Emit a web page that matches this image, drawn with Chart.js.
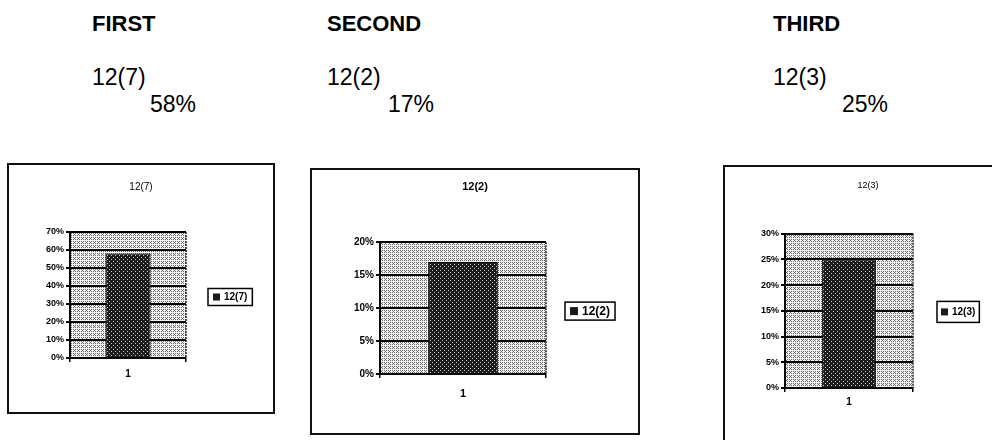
<!DOCTYPE html>
<html>
<head>
<meta charset="utf-8">
<script src="https://cdn.jsdelivr.net/npm/chart.js@4.4.1/dist/chart.umd.min.js"></script>
<style>
  body { margin: 0; width: 992px; height: 440px; overflow: hidden; background: #fff; position: relative; font-family: "Liberation Sans", Arial, sans-serif; color: #000; }
  .hd { position: absolute; font-size: 23px; line-height: 23px; white-space: nowrap; }
  .hd.b { font-weight: bold; font-size: 22px; }
  .box { position: absolute; border: 2px solid #111; background: #fff; }
  .box canvas { display: block; }
</style>
</head>
<body>
<div class="hd b" style="left:92px;top:12px" id="h1"></div>
<div class="hd" style="left:92px;top:66px" id="s1"></div>
<div class="hd" style="left:150px;top:93px" id="p1"></div>

<div class="hd b" style="left:327px;top:12px" id="h2"></div>
<div class="hd" style="left:327px;top:66px" id="s2"></div>
<div class="hd" style="left:388px;top:93px" id="p2"></div>

<div class="hd b" style="left:773px;top:12px" id="h3"></div>
<div class="hd" style="left:773px;top:66px" id="s3"></div>
<div class="hd" style="left:842px;top:93px" id="p3"></div>

<div class="box" style="left:7px;top:163px"><canvas id="c1" width="264" height="247"></canvas></div>
<div class="box" style="left:310px;top:168px"><canvas id="c2" width="326" height="263"></canvas></div>
<div class="box" style="left:723px;top:165px"><canvas id="c3" width="286" height="286"></canvas></div>

<script>
// data
const groupNames = ["FIRST", "SECOND", "THIRD"];
const categories = ["1"];
const seriesLabels = ["12(7)", "12(2)", "12(3)"];
const firstValues = [58];
const secondValues = [17];
const thirdValues = [25];
const firstTicks = [0, 10, 20, 30, 40, 50, 60, 70];
const secondTicks = [0, 5, 10, 15, 20];
const thirdTicks = [0, 5, 10, 15, 20, 25, 30];

// header text from the data
const allValues = [firstValues, secondValues, thirdValues];
groupNames.forEach((g, i) => {
  document.getElementById("h" + (i + 1)).textContent = g;
  document.getElementById("s" + (i + 1)).textContent = seriesLabels[i];
  document.getElementById("p" + (i + 1)).textContent = allValues[i][0] + "%";
});

// little pixel patterns, like the old excel fills
function makePattern(size, bg, fg, pts) {
  const c = document.createElement("canvas");
  c.width = size; c.height = size;
  const x = c.getContext("2d");
  x.fillStyle = bg; x.fillRect(0, 0, size, size);
  x.fillStyle = fg;
  pts.forEach(p => x.fillRect(p[0], p[1], 1, 1));
  return x.createPattern(c, "repeat");
}
const hatch = makePattern(4, "#f2f2f2", "#6a6a6a", [[0, 0], [2, 0], [1, 1], [0, 2], [2, 2]]);
const dots = makePattern(4, "#1c1c1c", "#c8c8c8", [[0, 0], [2, 2]]);

const FONT = "'Liberation Sans', Arial, sans-serif";

const plotDeco = {
  id: "plotDeco",
  beforeDraw(chart) {
    const a = chart.chartArea, ctx = chart.ctx;
    ctx.save();
    ctx.fillStyle = hatch;
    ctx.fillRect(a.left, a.top, a.right - a.left, a.bottom - a.top);
    ctx.restore();
  },
  afterDraw(chart) {
    const a = chart.chartArea, ctx = chart.ctx;
    const o = chart.options.plugins.plotDeco;
    ctx.save();
    // dotted right edge of the plot
    ctx.strokeStyle = "#222";
    ctx.lineWidth = 1.5;
    ctx.setLineDash([2, 1]);
    ctx.beginPath();
    ctx.moveTo(a.right, a.top);
    ctx.lineTo(a.right, a.bottom);
    ctx.stroke();
    ctx.setLineDash([]);
    // boxed legend on the right
    const ds = chart.data.datasets[0];
    ctx.font = o.weight + " " + o.size + "px " + FONT;
    const tw = ctx.measureText(ds.label).width;
    const w = o.pad + o.sq + 4 + tw + o.pad;
    const x = a.right + o.gap;
    const y = (a.top + a.bottom) / 2 - o.h / 2 + o.dy;
    ctx.fillStyle = "#fff";
    ctx.fillRect(x, y, w, o.h);
    ctx.strokeStyle = "#000";
    ctx.lineWidth = 1.5;
    ctx.strokeRect(x, y, w, o.h);
    const sy = y + (o.h - o.sq) / 2;
    ctx.fillStyle = "#1a1a1a";
    ctx.fillRect(x + o.pad, sy, o.sq, o.sq);
    ctx.fillStyle = "#000";
    ctx.textBaseline = "middle";
    ctx.fillText(ds.label, x + o.pad + o.sq + 4, y + o.h / 2 + 0.5);
    ctx.restore();
  }
};

function makeChart(id, label, values, ticks, st) {
  new Chart(document.getElementById(id), {
    type: "bar",
    data: {
      labels: categories,
      datasets: [{
        label: label,
        data: values,
        backgroundColor: dots,
        borderColor: "#000",
        borderWidth: 1,
        barPercentage: st.bar,
        categoryPercentage: 1
      }]
    },
    options: {
      responsive: false,
      animation: false,
      layout: { padding: { left: 0, right: 0, top: 0, bottom: st.padB } },
      plugins: {
        legend: { display: false },
        tooltip: { enabled: false },
        title: {
          display: true,
          text: label,
          color: "#000",
          font: { family: FONT, size: st.titleSize, weight: st.titleWeight },
          padding: { top: st.titleTop, bottom: st.titleBottom }
        },
        plotDeco: st.legend
      },
      scales: {
        x: {
          afterFit: s => { s.height = 30; },
          grid: { display: true, drawOnChartArea: false, color: "#000", lineWidth: 1.5, tickLength: 4, offset: true },
          border: { color: "#000", width: 1.5 },
          ticks: { color: "#000", padding: st.xPad, font: { family: FONT, size: st.xSize, weight: "bold" } }
        },
        y: {
          min: ticks[0],
          max: ticks[ticks.length - 1],
          afterFit: s => { s.width = st.padL + st.yW; },
          afterBuildTicks: s => { s.ticks = ticks.map(v => ({ value: v })); },
          grid: { color: "#000", lineWidth: 2, tickLength: 4 },
          border: { color: "#000", width: 2 },
          ticks: {
            color: "#000",
            padding: 2,
            font: { family: FONT, size: st.tickSize, weight: "bold" },
            callback: v => v + "%"
          }
        },
        // empty right-hand strip that keeps room for the legend box
        room: {
          type: "linear",
          position: "right",
          display: true,
          afterFit: s => { s.width = st.padR; },
          grid: { display: false },
          border: { display: false },
          ticks: { display: false }
        }
      }
    },
    plugins: [plotDeco]
  });
}

makeChart("c1", seriesLabels[0], firstValues, firstTicks, {
  bar: 0.39, padL: 21, padR: 87, padB: 24, yW: 40, xPad: 6,
  tickSize: 9, xSize: 10, titleSize: 10, titleWeight: "normal", titleTop: 16, titleBottom: 39,
  legend: { gap: 22, h: 17, sq: 7, pad: 5, size: 10, weight: "bold", dy: 2 }
});
makeChart("c2", seriesLabels[1], secondValues, secondTicks, {
  bar: 0.42, padL: 28, padR: 92, padB: 29, yW: 40, xPad: 9,
  tickSize: 10, xSize: 11, titleSize: 11, titleWeight: "bold", titleTop: 10, titleBottom: 49,
  legend: { gap: 19, h: 18, sq: 8, pad: 5, size: 12, weight: "bold", dy: 3 }
});
makeChart("c3", seriesLabels[2], thirdValues, thirdTicks, {
  bar: 0.42, padL: 22, padR: 98, padB: 35, yW: 38, xPad: 4,
  tickSize: 9, xSize: 10, titleSize: 9, titleWeight: "normal", titleTop: 13, titleBottom: 43,
  legend: { gap: 24, h: 21, sq: 7, pad: 4, size: 10, weight: "bold", dy: 1 }
});
</script>
</body>
</html>
